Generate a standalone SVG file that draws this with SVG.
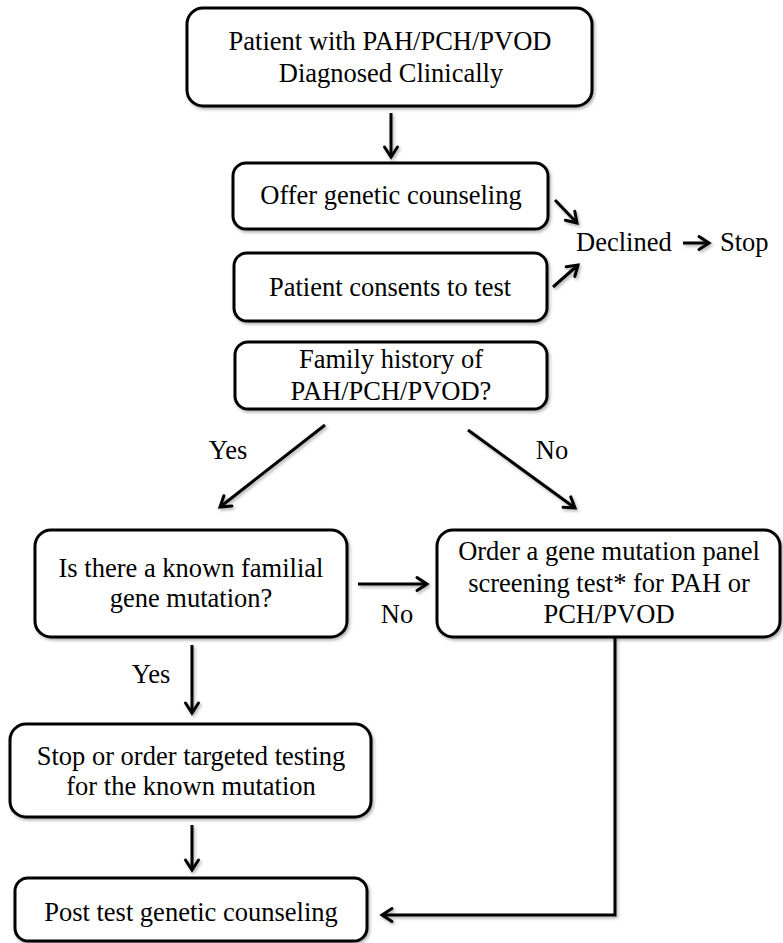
<svg xmlns="http://www.w3.org/2000/svg" width="783" height="943" viewBox="0 0 783 943">
  <defs>
    <filter id="sh" x="-10%" y="-10%" width="120%" height="130%">
      <feDropShadow dx="1.5" dy="2" stdDeviation="1.5" flood-color="#000" flood-opacity="0.3"/>
    </filter>
    <filter id="shc" filterUnits="userSpaceOnUse" x="0" y="0" width="783" height="943">
      <feDropShadow dx="1.5" dy="2" stdDeviation="1.5" flood-color="#000" flood-opacity="0.3"/>
    </filter>
    <marker id="ah" markerUnits="userSpaceOnUse" markerWidth="16" markerHeight="16" refX="11" refY="7" orient="auto" overflow="visible">
      <path d="M1,0.5 L11,7 L1,13.5" fill="none" stroke="#000" stroke-width="3" stroke-linecap="round" stroke-linejoin="miter"/>
    </marker>
    <style>
      .box { fill: #fff; stroke: #000; stroke-width: 3; filter: url(#sh); }
      .t { font-family: "Liberation Serif", "Times New Roman", serif; font-size: 26.5px; fill: #000; text-anchor: middle; }
      .l { font-family: "Liberation Serif", "Times New Roman", serif; font-size: 26.5px; fill: #000; }
      .c { fill: none; stroke: #000; stroke-width: 3; marker-end: url(#ah); }
    </style>
  </defs>
  <rect width="783" height="943" fill="#fff"/>

  <g id="connectors">
    <g filter="url(#shc)">
      <path class="c" d="M391,113 L391,157"/>
      <path class="c" d="M555,200 L577,223"/>
      <path class="c" d="M553,287 L578,265"/>
      <path class="c" d="M683,243 L709,243"/>
      <path class="c" d="M325,425 L220,507"/>
      <path class="c" d="M468,430 L575,508"/>
      <path class="c" d="M358,584 L427,584"/>
      <path class="c" d="M192,645 L192,713"/>
      <path class="c" d="M192,825 L192,870"/>
      <path class="c" d="M615,637 L615,915 L382,915"/>
    </g>
    <text class="t" x="228" y="459">Yes</text>
    <text class="t" x="552" y="459">No</text>
    <text class="t" x="397" y="623">No</text>
    <text class="t" x="151" y="683">Yes</text>
  </g>

  <g id="n-diagnosed">
    <rect class="box" x="187" y="8" width="405" height="98" rx="16"/>
    <text class="t" x="390" y="50">Patient with PAH/PCH/PVOD</text>
    <text class="t" x="391" y="82">Diagnosed Clinically</text>
  </g>

  <g id="n-offer">
    <rect class="box" x="233" y="163" width="315" height="66" rx="13"/>
    <text class="t" x="391" y="204">Offer genetic counseling</text>
  </g>

  <g id="n-consents">
    <rect class="box" x="234" y="253" width="313" height="68" rx="13"/>
    <text class="t" x="390" y="296">Patient consents to test</text>
  </g>

  <g id="n-declined">
    <text class="l" x="576" y="251">Declined</text>
  </g>

  <g id="n-stop">
    <text class="l" x="720" y="251">Stop</text>
  </g>

  <g id="n-family">
    <rect class="box" x="235" y="342" width="312" height="67" rx="13"/>
    <text class="t" x="391" y="368">Family history of</text>
    <text class="t" x="391" y="400">PAH/PCH/PVOD?</text>
  </g>

  <g id="n-known">
    <rect class="box" x="35" y="530" width="312" height="107" rx="16"/>
    <text class="t" x="191" y="577">Is there a known familial</text>
    <text class="t" x="191" y="607">gene mutation?</text>
  </g>

  <g id="n-panel">
    <rect class="box" x="437" y="530" width="343" height="107" rx="16"/>
    <text class="t" x="609" y="560">Order a gene mutation panel</text>
    <text class="t" x="609" y="592">screening test* for PAH or</text>
    <text class="t" x="609" y="623">PCH/PVOD</text>
  </g>

  <g id="n-targeted">
    <rect class="box" x="10" y="724" width="361" height="93" rx="16"/>
    <text class="t" x="191" y="765">Stop or order targeted testing</text>
    <text class="t" x="191" y="795">for the known mutation</text>
  </g>

  <g id="n-post">
    <rect class="box" x="15" y="878" width="352" height="63" rx="13"/>
    <text class="t" x="191" y="921">Post test genetic counseling</text>
  </g>
</svg>
